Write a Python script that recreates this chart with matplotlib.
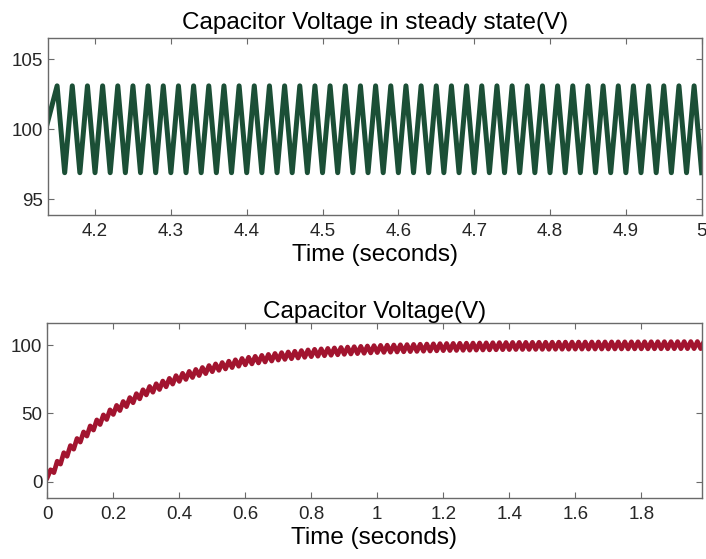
import numpy as np
import matplotlib.pyplot as plt

plt.rcParams['font.family'] = ['Liberation Sans', 'DejaVu Sans']

# Steady-state ripple
ss_peak_times = np.arange(4.15, 5.0, 0.02)   # triangle peaks, ~50 Hz
ss_high = 103.1
ss_low = 96.9

# Charging curve (centre of the band)
charge_t = [0, 0.05, 0.1, 0.15, 0.2, 0.3, 0.4, 0.5, 0.6, 0.7, 0.8, 0.9,
            1.0, 1.2, 1.4, 1.6, 1.8, 2.0]
charge_v = [3.0, 18.6, 31.6, 42.6, 51.8, 66.1, 76.0, 83.1, 88.1, 91.6, 94.1,
            95.8, 97.1, 98.5, 99.3, 99.6, 99.8, 100.0]
ripple_amp = 2.6
ripple_half_period = 0.01

green = '#1b4f36'
red = '#a2142f'
axis_col = '#6a6a6a'
text_col = '#262626'

# top: triangle vertices (peaks and valleys alternating)
t_top = np.concatenate([[ss_peak_times[0] - 0.03], np.sort(np.concatenate([ss_peak_times, ss_peak_times + 0.01]))])
v_top = np.array([ss_low] + [ss_high, ss_low] * len(ss_peak_times))[:len(t_top)]

# bottom: ripple on top of the charging curve
t_bot = np.arange(0, 2.0 + 1e-9, ripple_half_period)
sign = np.where(np.arange(len(t_bot)) % 2 == 0, -1.0, 1.0)
v_bot = np.interp(t_bot, charge_t, charge_v) + ripple_amp * sign
v_bot[0] = charge_v[0]

fig = plt.figure(figsize=(7.06, 5.59), dpi=100)
ax1 = fig.add_axes([0.068, 0.6154, 0.9259, 0.3172])
ax2 = fig.add_axes([0.067, 0.1097, 0.9269, 0.3119])

ax1.plot(t_top, v_top, color=green, lw=3.6, solid_joinstyle='round')
ax1.set_xlim(4.138, 5.0)
ax1.set_ylim(93.88, 106.54)
ax1.set_xticks([4.2, 4.3, 4.4, 4.5, 4.6, 4.7, 4.8, 4.9, 5.0])
ax1.set_xticklabels(['4.2', '4.3', '4.4', '4.5', '4.6', '4.7', '4.8', '4.9', '5'])
ax1.set_yticks([95, 100, 105])
ax1.set_title('Capacitor Voltage in steady state(V)', fontsize=17.5, pad=6, color='black')
ax1.set_xlabel('Time (seconds)', fontsize=17.5, labelpad=3, color='black')

ax2.plot(t_bot, v_bot, color=red, lw=3.4, solid_joinstyle='round')
ax2.set_xlim(0, 1.983)
ax2.set_ylim(-11.7, 115.9)
ax2.set_xticks([0, 0.2, 0.4, 0.6, 0.8, 1.0, 1.2, 1.4, 1.6, 1.8])
ax2.set_xticklabels(['0', '0.2', '0.4', '0.6', '0.8', '1', '1.2', '1.4', '1.6', '1.8'])
ax2.set_yticks([0, 50, 100])
ax2.set_title('Capacitor Voltage(V)', fontsize=17.5, pad=3.5, color='black')
ax2.set_xlabel('Time (seconds)', fontsize=17.5, labelpad=3, color='black')

for ax in (ax1, ax2):
    for s in ax.spines.values():
        s.set_color(axis_col)
        s.set_linewidth(1.0)
    ax.tick_params(direction='in', top=True, right=True, length=4.5, width=0.8,
                   colors=axis_col, labelcolor=text_col, labelsize=13.5)
    ax.tick_params(axis='x', pad=6)
    ax.tick_params(axis='y', pad=3.5)

fig.savefig('out.png', dpi=100)
